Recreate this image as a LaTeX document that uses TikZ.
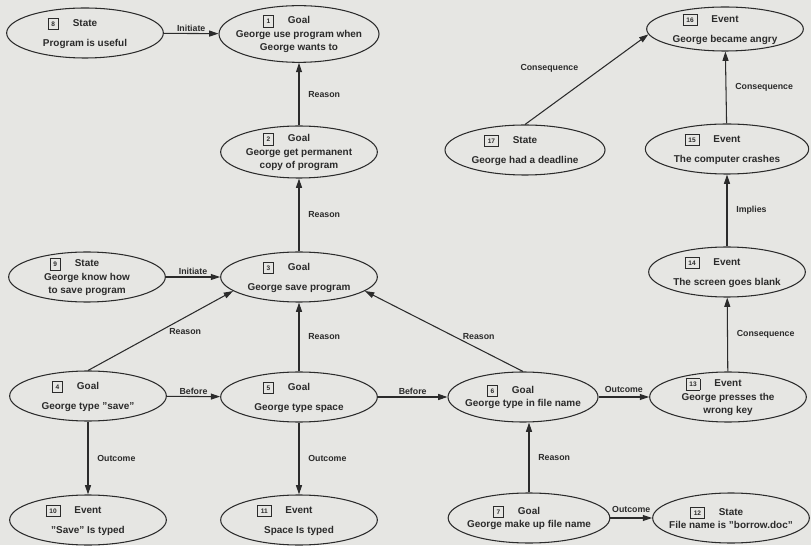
\documentclass[tikz,border=0pt]{standalone}
\usepackage{fontspec}
\setmainfont{Liberation Sans}
\usetikzlibrary{arrows.meta,shapes.geometric}
\definecolor{StoryInk}{HTML}{2B2B2B}
\definecolor{StoryPaper}{HTML}{E6E6E3}
\setlength{\fboxsep}{2.6pt}
\setlength{\fboxrule}{0.6pt}
\newcommand\storyhead[2]{\llap{\fbox{\fontsize{5.6}{6}\selectfont #1}\hspace{0.42cm}}#2}
\tikzset{
  storynode/.style={
    ellipse,
    draw=StoryInk,
    line width=0.9pt,
    minimum width=4.7cm,
    minimum height=1.5cm,
    inner sep=0pt
  },
  storytext/.style={
    align=center,
    inner sep=0pt,
    text=StoryInk,
    font=\fontsize{8.5}{11.5}\selectfont\bfseries
  },
  storyarrow/.style={-{Triangle[length=2.8mm,width=1.8mm]},line width=0.9pt,draw=StoryInk},
  storylabel/.style={font=\fontsize{7.5}{9}\selectfont\bfseries,text=StoryInk,inner sep=1.5pt}
}
\begin{document}
\begin{tikzpicture}[x=0.03cm,y=-0.03cm]
    \fill[StoryPaper] (0,0) rectangle (811,545);
    \node[storynode,label={[storytext]center:{\storyhead{8}{State}\\[5.5pt]Program is useful}}] (n8) at (85,33) {};
    \node[storynode,minimum width=4.8cm,minimum height=1.7cm,label={[storytext]center:{\storyhead{1}{Goal}\\George use program when\\George wants to}}] (n1) at (299,34) {};
    \node[storynode,minimum height=1.56cm,label={[storytext]center:{\storyhead{2}{Goal}\\George get permanent\\copy of program}}] (n2) at (299,152) {};
    \node[storynode,label={[storytext]center:{\storyhead{3}{Goal}\\[5.5pt]George save program}}] (n3) at (299,277) {};
    \node[storynode,label={[storytext]center:{\storyhead{9}{State}\\George know how\\to save program}}] (n9) at (87,277) {};
    \node[storynode,label={[storytext]center:{\storyhead{4}{Goal}\\[5.5pt]George type "save"}}] (n4) at (88,396) {};
    \node[storynode,label={[storytext]center:{\storyhead{5}{Goal}\\[5.5pt]George type space}}] (n5) at (299,397) {};
    \node[storynode,minimum width=4.5cm,label={[storytext]center:{\storyhead{6}{Goal}\\George type in file name}}] (n6) at (523,397) {};
    \node[storynode,label={[storytext]center:{\storyhead{13}{Event}\\George presses the\\wrong key}}] (n13) at (728,397) {};
    \node[storynode,label={[storytext]center:{\storyhead{10}{Event}\\[5.5pt]"Save" Is typed}}] (n10) at (88,520) {};
    \node[storynode,label={[storytext]center:{\storyhead{11}{Event}\\[5.5pt]Space Is typed}}] (n11) at (299,520) {};
    \node[storynode,minimum width=4.85cm,label={[storytext]center:{\storyhead{7}{Goal}\\George make up file name}}] (n7) at (529,518) {};
    \node[storynode,label={[storytext]center:{\storyhead{12}{State}\\File name is "borrow.doc"}}] (n12) at (731,518) {};
    \node[storynode,label={[storytext]center:{\storyhead{14}{Event}\\[5.5pt]The screen goes blank}}] (n14) at (727,272) {};
    \node[storynode,minimum width=4.9cm,label={[storytext]center:{\storyhead{15}{Event}\\[5.5pt]The computer crashes}}] (n15) at (727,149) {};
    \node[storynode,minimum height=1.32cm,label={[storytext]center:{\storyhead{16}{Event}\\[5.5pt]George became angry}}] (n16) at (725,29) {};
    \node[storynode,minimum width=4.8cm,label={[storytext]center:{\storyhead{17}{State}\\[5.5pt]George had a deadline}}] (n17) at (525,150) {};
    \draw[storyarrow] (n8) -- node[storylabel,above] {Initiate} (n1);
    \draw[storyarrow] (n2) -- node[storylabel,right=6pt] {Reason} (n1);
    \draw[storyarrow] (n3) -- node[storylabel,right=6pt] {Reason} (n2);
    \draw[storyarrow] (n9) -- node[storylabel,above] {Initiate} (n3);
    \draw[storyarrow] (n4.north) -- node[storylabel,pos=.67,below=8pt] {Reason} (n3.192);
    \draw[storyarrow] (n5) -- node[storylabel,right=6pt] {Reason} (n3);
    \draw[storyarrow] (n6.north) -- node[storylabel,pos=.28,above=6pt] {Reason} (n3.348);
    \draw[storyarrow] (n4) -- node[storylabel,above] {Before} (n5);
    \draw[storyarrow] (n5) -- node[storylabel,above] {Before} (n6);
    \draw[storyarrow] (n6) -- node[storylabel,above=2pt] {Outcome} (n13);
    \draw[storyarrow] (n4) -- node[storylabel,right=6pt] {Outcome} (n10);
    \draw[storyarrow] (n5) -- node[storylabel,right=6pt] {Outcome} (n11);
    \draw[storyarrow] (n7.north) -- node[storylabel,right=6pt] {Reason} (n7.north |- n6.south);
    \draw[storyarrow] (n7) -- node[storylabel,above=3pt] {Outcome} (n12);
    \draw[storyarrow] (n13) -- node[storylabel,right=6pt] {Consequence} (n14);
    \draw[storyarrow] (n14) -- node[storylabel,right=6pt] {Implies} (n15);
    \draw[storyarrow] (n15) -- node[storylabel,right=6pt] {Consequence} (n16);
    \draw[storyarrow] (n17.north) -- node[storylabel,pos=.62,left=18pt] {Consequence} (n16.184);
  \end{tikzpicture}
\end{document}
